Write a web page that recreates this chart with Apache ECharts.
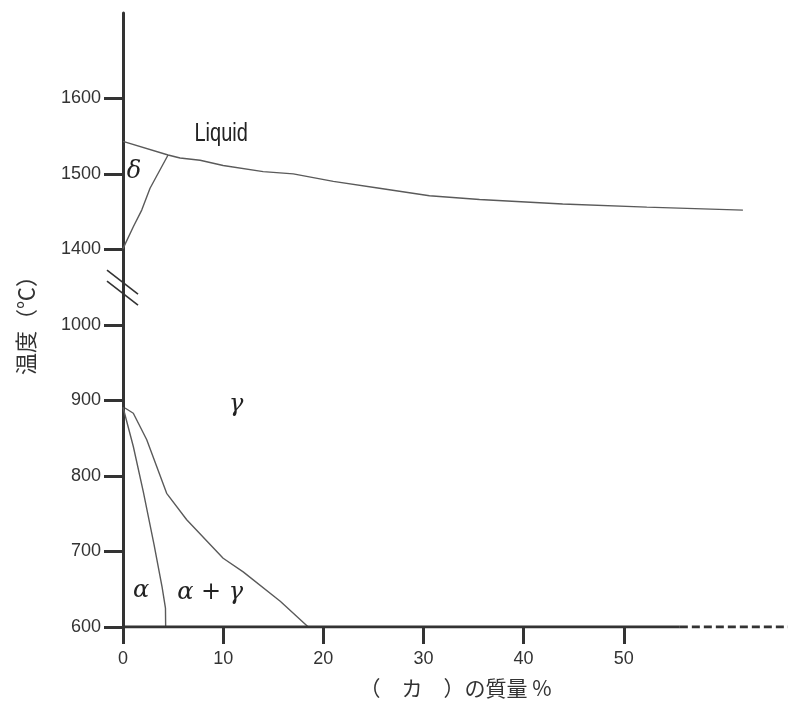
<!DOCTYPE html>
<html>
<head>
<meta charset="utf-8">
<script src="https://cdn.jsdelivr.net/npm/echarts@6/dist/echarts.min.js"></script>
<style>
html,body{margin:0;padding:0;background:#fff;}
#chart{width:788px;height:701px;}
</style>
</head>
<body>
<div id="chart"></div>
<script>
// ---- data (temperature in °C, composition in mass %) ----
const BREAK_LOW = 1000;   // axis broken between these temperatures
const BREAK_HIGH = 1400;
const xTicks = [0, 10, 20, 30, 40, 50];
const yTickLabels = [600, 700, 800, 900, 1000, 1400, 1500, 1600];

const liquidus = [[0,1543],[4.5,1525],[5.7,1521],[7.7,1518],[10.0,1511],[14.0,1503],[17.0,1500],[21.0,1490],[25.6,1481],[30.6,1471],[35.6,1466],[43.9,1460],[52.3,1456],[61.9,1452]];
const deltaBoundary = [[4.5,1525],[2.7,1481],[1.87,1452],[1.03,1430],[0,1401]];
const gammaBoundary = [[0.2,890],[1.03,883],[2.37,848],[4.36,777],[6.36,742],[10.0,691],[12.0,673],[15.7,634],[18.5,600]];
const alphaBoundary = [[0,891],[1.03,839],[2.03,779],[3.1,709],[3.9,653],[4.24,625],[4.26,600]];
const baseSolid = [[0,600],[55.6,600]];
const baseDashed = [[55.6,600],[66.4,600]];
const breakMark = [[0,1050]]; // position on the compressed axis where the break symbol is drawn
const regionLabels = [
  {text:'Liquid', x:9.8, t:1553, kind:'latin'},
  {text:'δ', x:1.1, t:1503, kind:'greek'},
  {text:'γ', x:11.3, t:894, kind:'greek'},
  {text:'α', x:1.8, t:648, kind:'greek'},
  {text:'α + γ', x:8.7, t:645, kind:'greek'}
];

// map real temperature to compressed axis value
function toAxis(t){ return t >= BREAK_HIGH ? t - (BREAK_HIGH - BREAK_LOW - 100) : t; }
function fromAxis(v){ return v > BREAK_LOW ? v + (BREAK_HIGH - BREAK_LOW - 100) : v; }
const conv = arr => arr.map(p => [p[0], toAxis(p[1])]);

const lineColor = '#5a5a5a';
const axisColor = '#333';
function curve(data){
  return {type:'line', data:conv(data), showSymbol:false, symbol:'none', silent:true,
    lineStyle:{color:lineColor, width:1.4}, z:3};
}

const chart = echarts.init(document.getElementById('chart'), null, {renderer:'canvas'});
chart.setOption({
  animation:false,
  backgroundColor:'#fff',
  grid:{left:123, right:0, top:13, bottom:74, containLabel:false, outerBoundsMode:'none'},
  xAxis:{
    type:'value', min:0, max:66.4, interval:10,
    axisLine:{show:false},
    axisTick:{show:true, customValues:xTicks, length:17, lineStyle:{color:axisColor, width:3}},
    axisLabel:{customValues:xTicks, margin:23, fontSize:18, fontFamily:'Liberation Sans', color:axisColor},
    splitLine:{show:false},
    name:'（　カ　）の質量 %', nameLocation:'middle', nameGap:51,
    nameTextStyle:{fontSize:21, fontFamily:'Noto Sans CJK JP', color:axisColor}
  },
  yAxis:{
    type:'value', min:600, max:1413, interval:100,
    axisLine:{show:true, lineStyle:{color:axisColor, width:3}},
    axisTick:{show:true, customValues:yTickLabels.map(toAxis), length:19, lineStyle:{color:axisColor, width:3}},
    axisLabel:{customValues:yTickLabels.map(toAxis), margin:22, fontSize:18, fontFamily:'Liberation Sans', color:axisColor,
      formatter:v => String(fromAxis(v))},
    splitLine:{show:false},
    name:'温度（℃）', nameLocation:'middle', nameGap:86, nameRotate:90,
    nameTextStyle:{fontSize:22, fontFamily:'Noto Sans CJK JP', color:axisColor}
  },
  series:[
    curve(liquidus),
    curve(deltaBoundary),
    curve(gammaBoundary),
    curve(alphaBoundary),
    {type:'line', data:conv(baseSolid), showSymbol:false, symbol:'none', silent:true,
      lineStyle:{color:axisColor, width:3}, z:4},
    {type:'line', data:conv(baseDashed), showSymbol:false, symbol:'none', silent:true,
      lineStyle:{color:axisColor, width:3, type:[8,4]}, z:4},
    {type:'custom', data:breakMark, clip:false, silent:true, z:5,
      renderItem:(params, api) => {
        const p = api.coord([api.value(0), api.value(1)]);
        const mk = dy => ({type:'line', shape:{x1:p[0]-16, y1:p[1]-17+dy, x2:p[0]+15, y2:p[1]+7+dy},
          style:{stroke:axisColor, lineWidth:1.6}});
        return {type:'group', children:[mk(0), mk(11)]};
      }},
    {type:'custom', data:regionLabels.map(l => [l.x, toAxis(l.t)]), clip:false, silent:true, z:6,
      renderItem:(params, api) => {
        const l = regionLabels[params.dataIndex];
        const p = api.coord([api.value(0), api.value(1)]);
        const latin = l.kind === 'latin';
        return {type:'text', x:p[0], y:p[1], scaleX: latin ? 0.8 : 1,
          style:{text:l.text, fill:'#222', align:'center', verticalAlign:'middle',
            font: latin ? '25px "Liberation Sans"' : 'italic 24px "DejaVu Serif"'}};
      }}
  ]
});
</script>
</body>
</html>
